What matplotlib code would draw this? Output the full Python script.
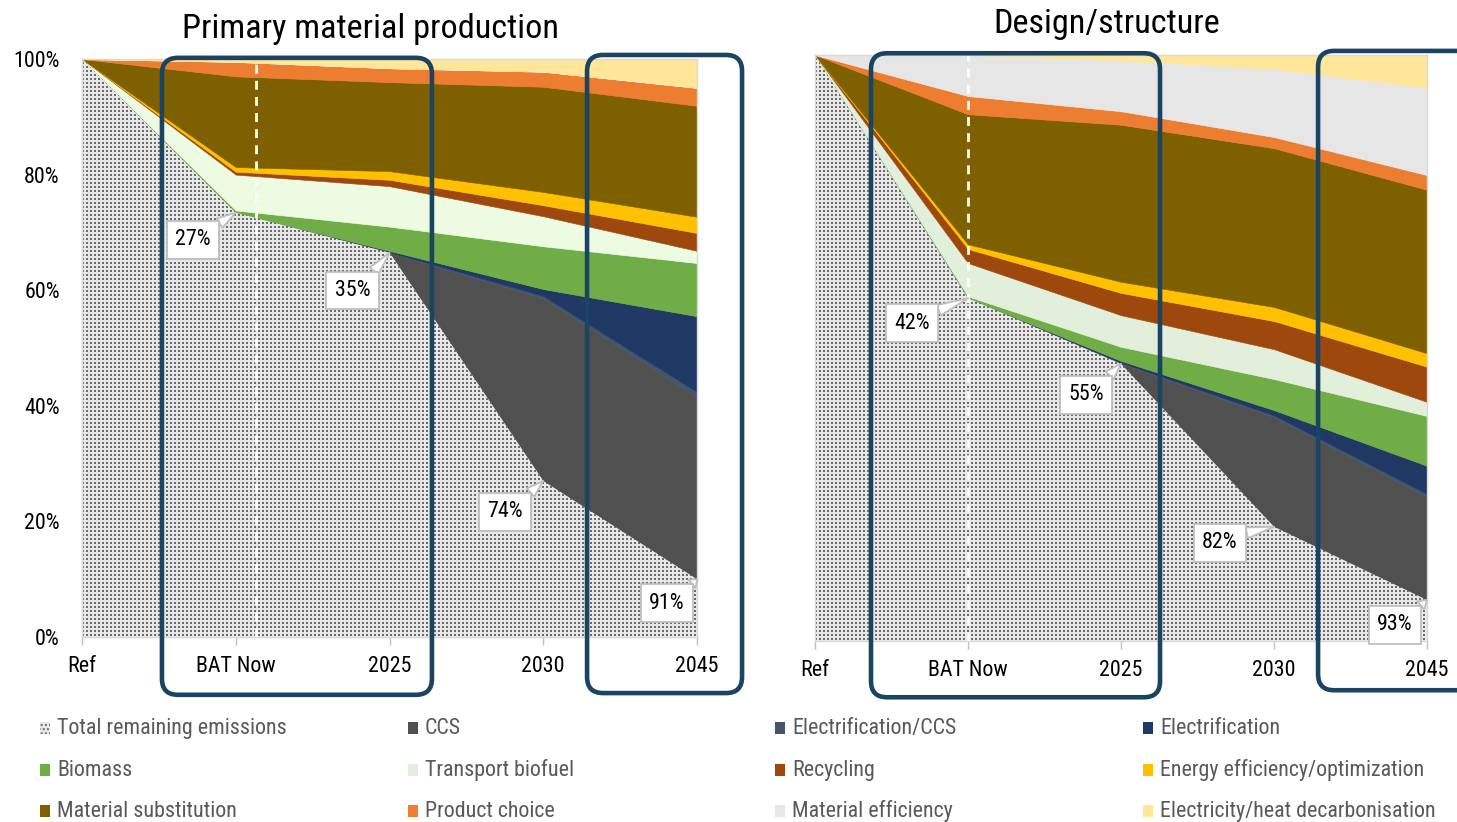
import numpy as np
import matplotlib
matplotlib.use('Agg')
import matplotlib.pyplot as plt
from matplotlib import font_manager
from matplotlib.patches import FancyBboxPatch, Rectangle
from matplotlib.transforms import IdentityTransform

# the reference uses a narrow sans; take one if the machine has it
fonts = font_manager.fontManager.ttflist
names = {f.name for f in fonts}
family, stretch, scale = 'Liberation Sans', 'normal', 0.84
for cand, sc in [('Liberation Sans Narrow', 1.0), ('Arial Narrow', 1.0),
                 ('Roboto Condensed', 0.93), ('Noto Sans Condensed', 0.9),
                 ('Open Sans Condensed', 0.9), ('DejaVu Sans Condensed', 0.85)]:
    if cand in names:
        family, scale = cand, sc
        break
else:
    for f in fonts:
        if f.name in ('Noto Sans', 'Roboto', 'Open Sans', 'DejaVu Sans') and \
                str(f.stretch) in ('condensed', 'semi-condensed'):
            family, stretch, scale = f.name, f.stretch, 0.9
            break
plt.rcParams['font.family'] = [family, 'DejaVu Sans']
plt.rcParams['font.stretch'] = stretch

categories = ['Ref', 'BAT Now', '2025', '2030', '2045']
series_names = ['Total remaining emissions', 'CCS', 'Electrification/CCS', 'Electrification',
                'Biomass', 'Transport biofuel', 'Recycling', 'Energy efficiency/optimization',
                'Material substitution', 'Product choice', 'Material efficiency',
                'Electricity/heat decarbonisation']

# Primary material production, % of reference emissions
prim_remaining = [100, 73.4, 66.5, 27.0, 10.0]
prim_ccs = [0, 0, 0, 31.6, 31.5]
prim_elec_ccs = [0, 0, 0.1, 0.4, 0.9]
prim_elec = [0, 0, 0.2, 1.2, 13.1]
prim_biomass = [0, 0.4, 4.2, 7.4, 9.2]
prim_biofuel = [0, 6.2, 7.0, 5.2, 2.1]
prim_recycling = [0, 0.5, 1.1, 1.9, 3.1]
prim_energy_eff = [0, 0.8, 1.5, 2.3, 2.8]
prim_mat_subst = [0, 15.7, 15.4, 18.2, 19.2]
prim_product = [0, 2.5, 2.4, 2.6, 3.1]
prim_mat_eff = [0, 0, 0, 0, 0]
prim_heat = [0, 0.5, 1.6, 2.2, 5.0]
prim_labels = ['27%', '35%', '74%', '91%']

# Design/structure, % of reference emissions
des_remaining = [100, 58.5, 47.3, 19.5, 7.0]
des_ccs = [0, 0, 0, 18.7, 17.6]
des_elec_ccs = [0, 0, 0.2, 0.3, 0.5]
des_elec = [0, 0, 0.3, 0.9, 4.8]
des_biomass = [0, 0.3, 2.4, 5.3, 8.5]
des_biofuel = [0, 5.7, 5.4, 5.1, 2.4]
des_recycling = [0, 2.4, 3.8, 4.8, 6.0]
des_energy_eff = [0, 0.8, 1.9, 2.4, 2.3]
des_mat_subst = [0, 22.2, 26.8, 27.1, 27.9]
des_product = [0, 3.1, 2.3, 1.9, 2.5]
des_mat_eff = [0, 7.0, 8.7, 11.6, 14.9]
des_heat = [0, 0, 0.9, 2.4, 5.6]
des_labels = ['42%', '55%', '82%', '93%']

colors = ['#E8E8E8', '#505050', '#44546A', '#1F3864', '#70AD47', '#E2EFDA',
          '#9E480E', '#FFC000', '#7F6000', '#ED7D31', '#E7E6E6', '#FFE699']
box_color = '#1A4462'
dot_rgb = np.array([0.42, 0.42, 0.42])
bg_rgb = np.array([0.91, 0.91, 0.91])

fs = 17 * scale
fs_title = 26.5 * scale

W, H = 1457, 822
fig = plt.figure(figsize=(W / 100, H / 100), dpi=100)

ax1 = fig.add_axes([82 / W, 1 - 637 / H, 615 / W, 578 / H])
ax2 = fig.add_axes([815 / W, 1 - 641 / H, 612 / W, 586 / H])


def draw_panel(ax, layers, fills, labels, offsets, dash_x):
    x = np.arange(len(categories))
    polys = ax.stackplot(x, *layers, colors=fills, linewidth=0.4)
    for p, c in zip(polys, fills):
        p.set_edgecolor(c)
    ax.set_xlim(0, 4)
    ax.set_ylim(0, 100)

    # dotted texture for the remaining emissions
    bb = ax.get_window_extent()
    w, h = int(np.ceil(bb.width)), int(np.ceil(bb.height))
    yy, xx = np.mgrid[0:h, 0:w]
    dots = ((xx % 4) < 2) & ((yy % 4) < 2)
    tex = np.where(dots[..., None], dot_rgb, bg_rgb)
    im = ax.imshow(tex, extent=(0, 4, 0, 100), aspect='auto',
                   interpolation='nearest', zorder=2)
    im.set_clip_path(polys[0].get_paths()[0], ax.transData)
    ax.set_xlim(0, 4)
    ax.set_ylim(0, 100)

    ax.axvline(dash_x, color='white', lw=2.0, ls=(0, (3.2, 2.6)), zorder=3)

    remaining = layers[0]
    for i, (lab, off) in enumerate(zip(labels, offsets)):
        ax.annotate(lab, xy=(i + 1, remaining[i + 1]), xytext=off,
                    textcoords='offset pixels', ha='center', va='center',
                    fontsize=fs, zorder=6,
                    bbox=dict(boxstyle='square,pad=0.38', fc='white',
                              ec='#BFBFBF', lw=1.3),
                    arrowprops=dict(arrowstyle='wedge,tail_width=0.5,shrink_factor=0.5',
                                    fc='white', ec='#BFBFBF', lw=1.3,
                                    shrinkA=0, shrinkB=0, relpos=(0.8, 0.8)))

    ax.set_xticks(x)
    ax.set_xticklabels(categories, fontsize=fs)
    ax.tick_params(axis='x', length=6, width=1, color='#BFBFBF', pad=8)
    for s in ax.spines.values():
        s.set_color('#D9D9D9')
        s.set_linewidth(1)


prim_layers = [prim_remaining, prim_ccs, prim_elec_ccs, prim_elec, prim_biomass,
               prim_biofuel, prim_recycling, prim_energy_eff, prim_mat_subst,
               prim_product, prim_mat_eff, prim_heat]
des_layers = [des_remaining, des_ccs, des_elec_ccs, des_elec, des_biomass,
              des_biofuel, des_recycling, des_energy_eff, des_mat_subst,
              des_product, des_mat_eff, des_heat]

prim_colors = list(colors)
prim_colors[5] = '#ECFBE2'

draw_panel(ax1, prim_layers, prim_colors, prim_labels,
           [(-43, -27), (-37, -38), (-38, -31), (-30, -24)], 1.13)
draw_panel(ax2, des_layers, colors, des_labels,
           [(-56, -25), (-35, -31), (-54, -16), (-32, -25)], 1.0)

ax1.set_yticks(np.arange(0, 101, 20))
ax1.set_yticklabels([f'{v}%' for v in range(0, 101, 20)], fontsize=fs)
ax1.tick_params(axis='y', length=0, pad=16)
ax2.set_yticks([])

fig.text(370 / W, 1 - 29 / H, 'Primary material production', fontsize=fs_title,
         ha='center', va='center')
fig.text(1107 / W, 1 - 24 / H, 'Design/structure', fontsize=fs_title,
         ha='center', va='center')


def frame(ax, x0, x1, y0, y1):
    px0, py0 = ax.transData.transform((x0, y0))
    px1, py1 = ax.transData.transform((x1, y1))
    fig.add_artist(FancyBboxPatch((px0, py0), px1 - px0, py1 - py0,
                                  boxstyle='round,pad=0,rounding_size=16',
                                  transform=IdentityTransform(), fill=False,
                                  ec=box_color, lw=3.3, zorder=10))


frame(ax1, 0.52, 2.276, -10.0, 100.2)
frame(ax1, 3.285, 4.293, -9.7, 100.7)
frame(ax2, 0.366, 2.255, -9.6, 100.3)
frame(ax2, 3.288, 4.45, -8.4, 100.7)

# legend, 4 columns x 3 rows
leg_cols = [40, 408, 775, 1143]
leg_rows = [728, 770, 811]
for i, (name, c) in enumerate(zip(series_names, colors)):
    r, k = divmod(i, 4)
    x, y = leg_cols[k], leg_rows[r]
    if i == 0:
        sw = Rectangle((x / W, 1 - (y + 6) / H), 10 / W, 12 / H, transform=fig.transFigure,
                       fc='#E9E9E9', ec='#6B6B6B', hatch='....', lw=0)
    else:
        sw = Rectangle((x / W, 1 - (y + 6) / H), 10 / W, 12 / H, transform=fig.transFigure,
                       fc=c, lw=0)
    fig.add_artist(sw)
    fig.text((x + 17) / W, 1 - y / H, name, fontsize=fs, color='#595959',
             ha='left', va='center')

fig.savefig('out.png', dpi=100)
